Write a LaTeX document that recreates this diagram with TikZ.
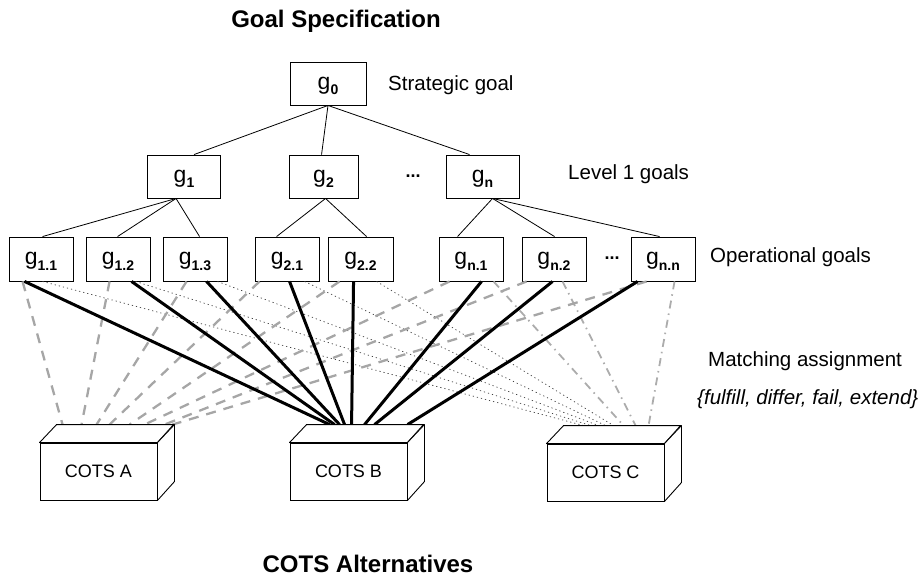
\documentclass[tikz,border=0pt]{standalone}
\usepackage{fontspec}
\setmainfont{Liberation Sans}
\newcommand{\goallab}[1]{{\fontsize{23}{23}\selectfont g}\raisebox{-5.5pt}{\fontsize{14}{14}\selectfont\bfseries #1}}
\tikzset{
  goal/.style={draw=black, line width=0.9pt, fill=white, minimum width=64pt, minimum height=44pt, inner sep=0pt, text height=16pt, text depth=5pt},
  topgoal/.style={goal, minimum width=73pt, minimum height=43pt},
  cots/.style={draw=black, line width=0.9pt, fill=white, minimum width=117pt, minimum height=57pt, inner sep=0pt, font=\fontsize{18}{18}\selectfont},
  face/.style={draw=black, line width=0.9pt, fill=white, line join=round},
  tree/.style={line width=0.8pt},
  lbl/.style={anchor=base west, inner sep=0pt, font=\fontsize{20.5}{22}\selectfont},
  heading/.style={anchor=base, inner sep=0pt, font=\fontsize{24}{26}\selectfont\bfseries},
  fulfil/.style={line width=3pt, black},
  partial/.style={line width=2.3pt, gray!70, dash pattern=on 10pt off 8pt},
  weak/.style={line width=0.7pt, black!75, dash pattern=on 1.2pt off 3pt},
  other/.style={line width=1.8pt, gray!65, dash pattern=on 8pt off 5pt on 1.5pt off 5pt},
}
\begin{document}
\begin{tikzpicture}[x=1pt, y=-1pt]
\path[use as bounding box] (0,0) rectangle (920,579);

% headings and level labels
\node[heading] (hgoal) at (336,27) {Goal Specification};
\node[heading] (hcots) at (368,572) {COTS Alternatives};
\node[lbl] (lstrat) at (388,90) {Strategic goal};
\node[lbl] (llev1) at (568,179) {Level 1 goals};
\node[lbl] (lop) at (710,262) {Operational goals};
\node[lbl] (lmatch) at (708,366) {Matching assignment};
\node[lbl, font=\fontsize{20.5}{22}\selectfont\itshape] (lset) at (697,404) {\{fulfill, differ, fail, extend\}};

% goal tree
\node[goal, minimum width=76pt, minimum height=43pt] (g0) at (328,83.5) {\goallab{0}};
\node[topgoal] (g1) at (184,176.5) {\goallab{1}};
\node[topgoal, minimum width=69pt] (g2) at (323.5,176.5) {\goallab{2}};
\node[topgoal] (gn) at (482.5,176.5) {\goallab{n}};
\node[font=\fontsize{18}{18}\selectfont\bfseries] (dots1) at (413,176) {...};

\node[goal] (g11) at (41,259) {\goallab{1.1}};
\node[goal] (g12) at (118,259) {\goallab{1.2}};
\node[goal] (g13) at (195,259) {\goallab{1.3}};
\node[goal] (g21) at (287,259) {\goallab{2.1}};
\node[goal, minimum width=65pt] (g22) at (360.5,259) {\goallab{2.2}};
\node[goal] (gn1) at (471,259) {\goallab{n.1}};
\node[goal] (gn2) at (554,259) {\goallab{n.2}};
\node[goal] (gnn) at (663,259) {\goallab{n.n}};
\node[font=\fontsize{18}{18}\selectfont\bfseries] (dots2) at (612,258) {...};

\draw[tree] (g0.south) -- ([shift={(47,0)}]g1.north west);
\draw[tree] (g0.south) -- ([shift={(33,0)}]g2.north west);
\draw[tree] (g0.south) -- ([shift={(24,0)}]gn.north west);

\coordinate (b1) at ([shift={(29,0)}]g1.south west);
\coordinate (b2) at ([shift={(37,0)}]g2.south west);
\coordinate (bn) at ([shift={(47,0)}]gn.south west);
\draw[tree] (b1) -- ([shift={(34,0)}]g11.north west);
\draw[tree] (b1) -- ([shift={(32,0)}]g12.north west);
\draw[tree] (b1) -- ([shift={(37,0)}]g13.north west);
\draw[tree] (b2) -- ([shift={(22,0)}]g21.north west);
\draw[tree] (b2) -- ([shift={(39,0)}]g22.north west);
\draw[tree] (bn) -- ([shift={(19,0)}]gn1.north west);
\draw[tree] (bn) -- ([shift={(33,0)}]gn2.north west);
\draw[tree] (bn) -- ([shift={(29,0)}]gnn.north west);

% COTS alternatives: front faces
\node[cots] (ca) at (98.5,471.5) {COTS A};
\node[cots] (cb) at (348.5,471.5) {COTS B};
\node[cots] (cc) at (605.5,472.5) {COTS C};

% matching assignments to COTS C
\draw[weak]  ([shift={(34,0)}]g11.south west) -- ([shift={(37,-18)}]cc.north west);
\draw[weak]  ([shift={(50,0)}]g12.south west) -- ([shift={(44,-18)}]cc.north west);
\draw[weak]  ([shift={(55,0)}]g13.south west) -- ([shift={(52,-18)}]cc.north west);
\draw[weak]  ([shift={(50,0)}]g21.south west) -- ([shift={(59,-18)}]cc.north west);
\draw[weak]  ([shift={(49,0)}]g22.south west) -- ([shift={(67,-18)}]cc.north west);
\draw[other] ([shift={(55,0)}]gn1.south west) -- ([shift={(77,-18)}]cc.north west);
\draw[other] ([shift={(41,0)}]gn2.south west) -- ([shift={(89,-18)}]cc.north west);
\draw[other] ([shift={(44,0)}]gnn.south west) -- ([shift={(102,-18)}]cc.north west);

% matching assignments to COTS A
\draw[partial] ([shift={(14,0)}]g11.south west) -- ([shift={(23,-18)}]ca.north west);
\draw[partial] ([shift={(24,0)}]g12.south west) -- ([shift={(42,-18)}]ca.north west);
\draw[partial] ([shift={(24,0)}]g13.south west) -- ([shift={(57,-18)}]ca.north west);
\draw[partial] ([shift={(5,0)}]g21.south west) -- ([shift={(70,-18)}]ca.north west);
\draw[partial] ([shift={(12,0)}]g22.south west) -- ([shift={(90,-18)}]ca.north west);
\draw[partial] ([shift={(11,0)}]gn1.south west) -- ([shift={(105,-18)}]ca.north west);
\draw[partial] ([shift={(5,0)}]gn2.south west) -- ([shift={(125,-18)}]ca.north west);
\draw[partial] ([shift={(16,0)}]gnn.south west) -- ([shift={(133,-18)}]ca.north west);

% matching assignments to COTS B
\draw[fulfil] ([shift={(16,0)}]g11.south west) -- ([shift={(40,-18)}]cb.north west);
\draw[fulfil] ([shift={(46,0)}]g12.south west) -- ([shift={(45,-18)}]cb.north west);
\draw[fulfil] ([shift={(44,0)}]g13.south west) -- ([shift={(50,-18)}]cb.north west);
\draw[fulfil] ([shift={(35,0)}]g21.south west) -- ([shift={(55,-18)}]cb.north west);
\draw[fulfil] ([shift={(26,0)}]g22.south west) -- ([shift={(62,-18)}]cb.north west);
\draw[fulfil] ([shift={(43,0)}]gn1.south west) -- ([shift={(75,-18)}]cb.north west);
\draw[fulfil] ([shift={(31,0)}]gn2.south west) -- ([shift={(85,-18)}]cb.north west);
\draw[fulfil] ([shift={(7,0)}]gnn.south west) -- ([shift={(118,-18)}]cb.north west);

% COTS boxes: top and side faces
\foreach \c in {ca,cb,cc}{
  \draw[face] (\c.north west) -- ++(17,-18) -- ++(117,0) -- (\c.north east) -- cycle;
  \draw[face] (\c.north east) -- ++(17,-18) -- ++(0,57) -- (\c.south east) -- cycle;
}
\end{tikzpicture}
\end{document}
